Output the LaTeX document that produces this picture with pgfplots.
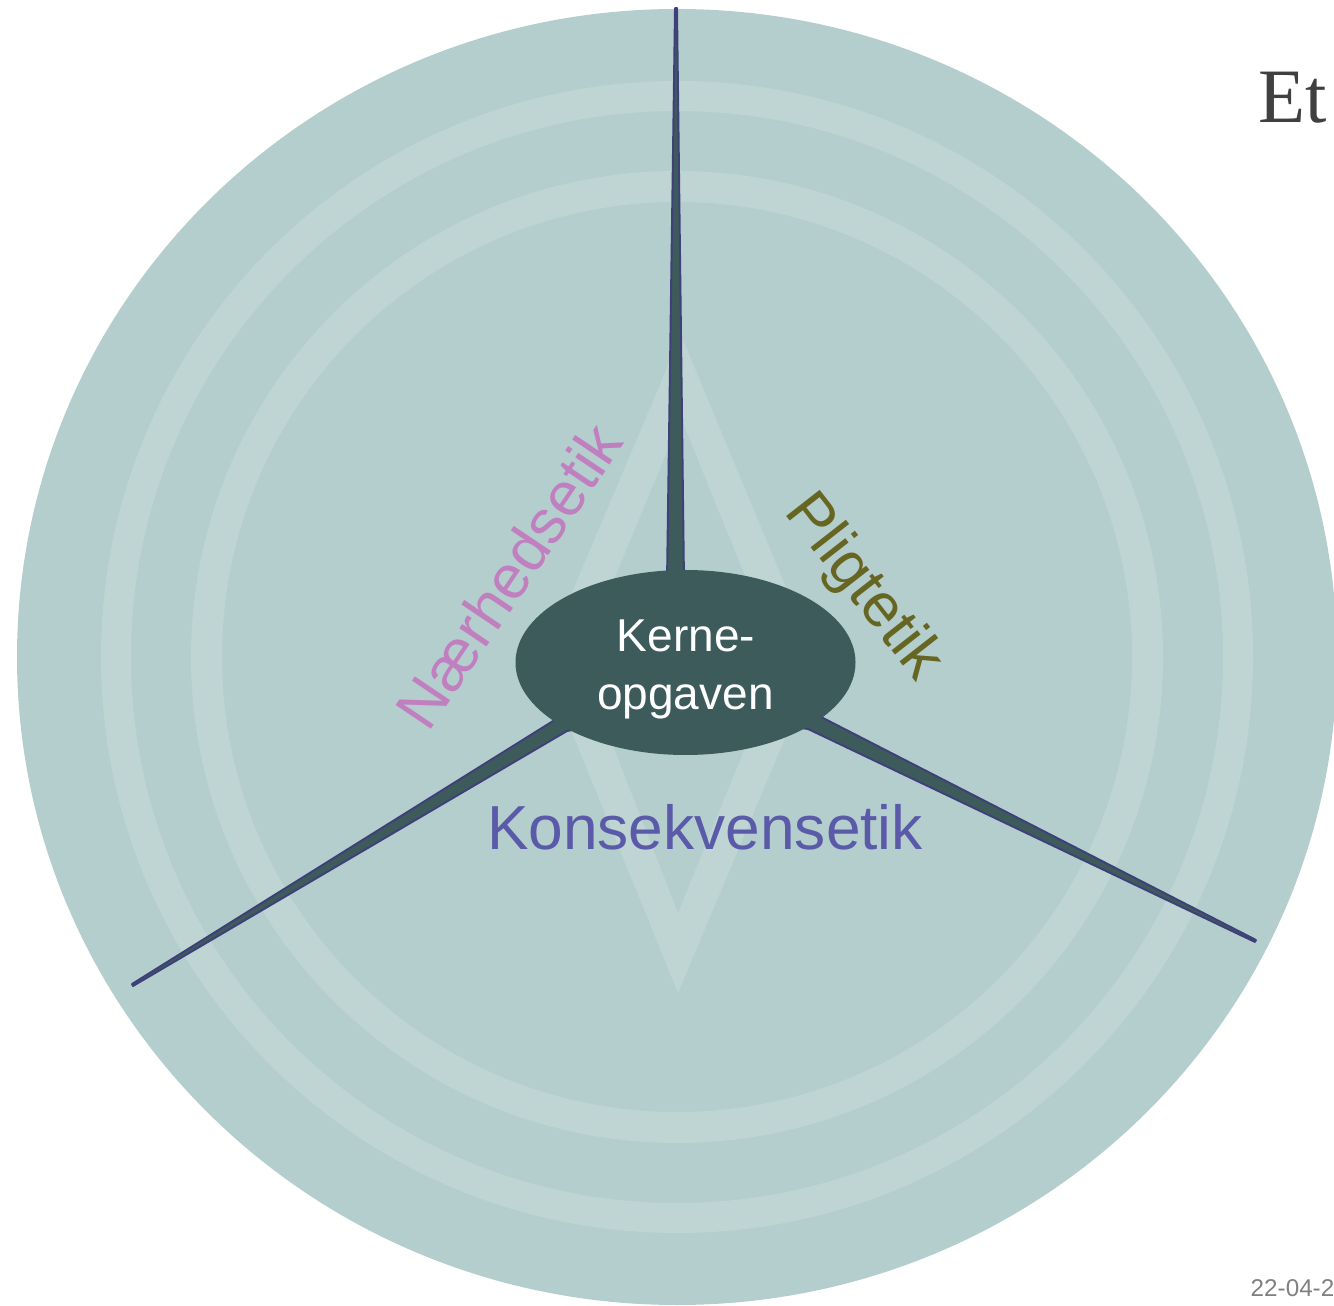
\documentclass[border=0pt]{standalone}
\usepackage{pgfplots}
\pgfplotsset{compat=1.18}
\usepackage{fontspec}
\setmainfont{Liberation Sans}
\newfontfamily\serifEt{Liberation Serif}
\definecolor{bgc}{HTML}{B4CECE}
\definecolor{ringc}{HTML}{BED5D3}
\definecolor{darkc}{HTML}{3D5B5B}
\definecolor{spokec}{HTML}{3F3F7A}
\definecolor{pinkc}{HTML}{C080C0}
\definecolor{olivec}{HTML}{666622}
\definecolor{bluec}{HTML}{5A5AA8}
\definecolor{etc}{HTML}{404040}
\definecolor{datec}{HTML}{808080}
\begin{document}
\begin{tikzpicture}
\begin{axis}[
  scale only axis, width=13.34cm, height=13.06cm,
  xmin=0, xmax=1334, ymin=0, ymax=1306, y dir=reverse,
  hide axis, clip=true]
% big disc
\fill[bgc] (axis cs:677,657) ellipse [x radius=660, y radius=648];
% rings
\fill[ringc, even odd rule] (axis cs:677,657) circle [radius=576] (axis cs:677,657) circle [radius=546];
\fill[ringc, even odd rule] (axis cs:677,657) circle [radius=486] (axis cs:677,657) circle [radius=455];
% diamond band
\addplot[fill=ringc, draw=none, even odd rule] coordinates {
 (681,335) (543,661) (678,993) (817,662) (681,335)
 (681,418) (780,662) (678,913) (580,661) (681,418)} --cycle;
% spokes
\addplot[fill=darkc, draw=spokec, line width=0.55pt, line join=round] coordinates {
 (675,8) (667,580) (666,640) (685,640) (684,580) (677,8)} --cycle;
\addplot[fill=darkc, draw=spokec, line width=0.55pt, line join=round] coordinates {
 (132,984) (553,721) (610,690) (630,720) (567,731) (133,986)} --cycle;
\addplot[fill=darkc, draw=spokec, line width=0.55pt, line join=round] coordinates {
 (1256,940) (823,718) (760,690) (745,720) (808,729) (1255,942)} --cycle;
% centre ellipse
\fill[darkc] (axis cs:685.5,662.5) ellipse [x radius=170, y radius=92.5];
% texts
\node[anchor=base, text=white, inner sep=0pt, font=\fontsize{13.1pt}{15pt}\selectfont] at (axis cs:686,652) {Kerne-};
\node[anchor=base, text=white, inner sep=0pt, font=\fontsize{13.1pt}{15pt}\selectfont] at (axis cs:685.5,710) {opgaven};
\node[anchor=base, text=bluec, inner sep=0pt, font=\fontsize{17.7pt}{20pt}\selectfont] at (axis cs:705,850) {Konsekvensetik};
\node[anchor=base, text=pinkc, inner sep=0pt, rotate=56, font=\fontsize{17.6pt}{20pt}\selectfont] at (axis cs:527,588) {Nærhedsetik};
\node[anchor=base, text=olivec, inner sep=0pt, rotate=-52, font=\fontsize{17.6pt}{20pt}\selectfont] at (axis cs:850,597.5) {Pligtetik};
\node[anchor=base west, text=etc, inner sep=0pt, font=\serifEt\fontsize{21.9pt}{24pt}\selectfont] at (axis cs:1258,123) {Et};
\node[anchor=base west, text=datec, inner sep=0pt, font=\fontsize{6.9pt}{8pt}\selectfont] at (axis cs:1250,1296) {22-04-2};
\end{axis}
\pgfresetboundingbox
\path[use as bounding box] (0,0) rectangle (13.34cm,13.06cm);
\end{tikzpicture}
\end{document}
